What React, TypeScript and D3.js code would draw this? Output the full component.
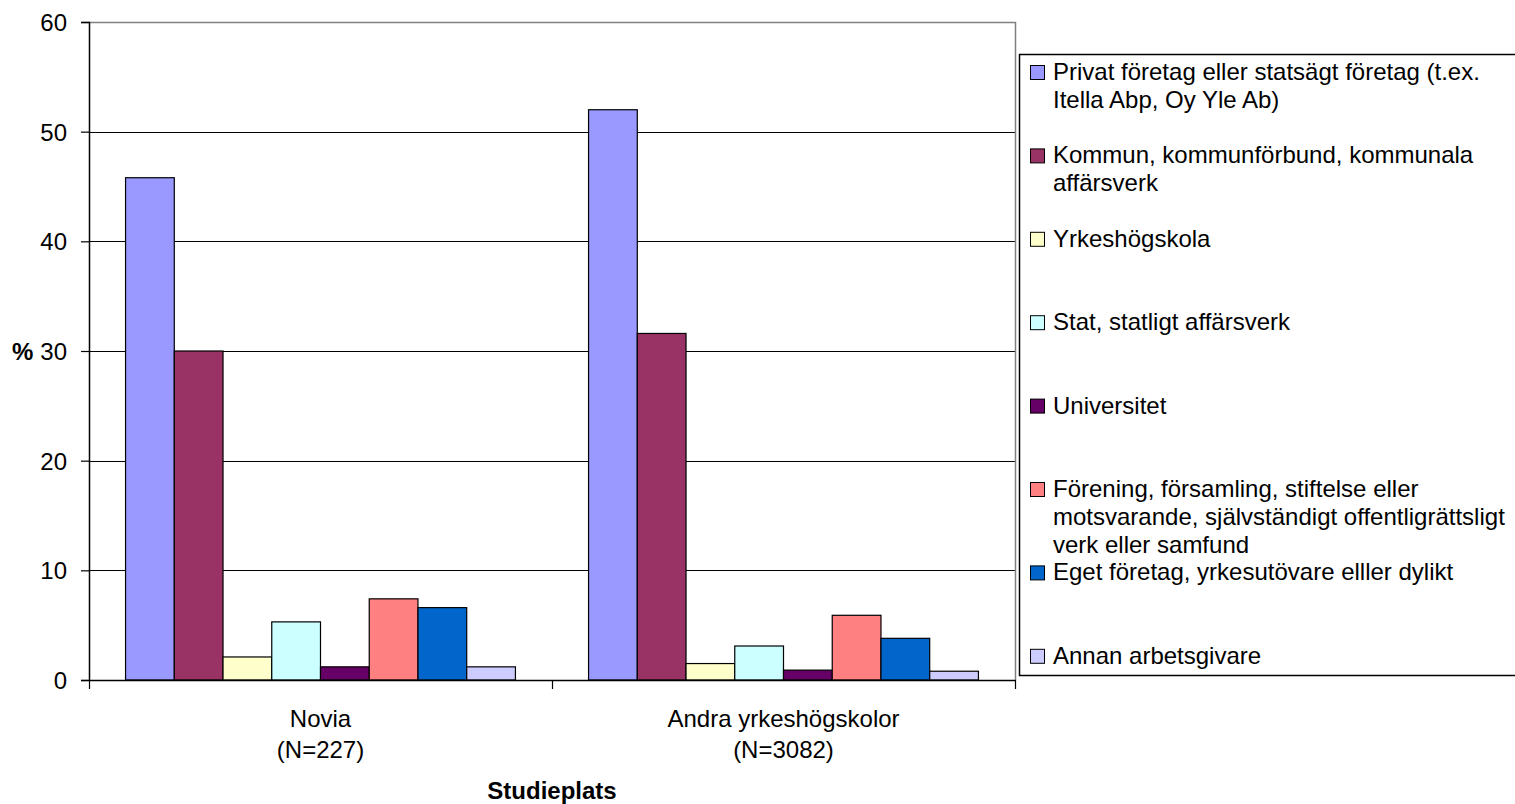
import React, { useEffect, useRef } from "react";
import * as d3 from "d3";

// categories on the x axis (two label lines each)
const categories = ["Novia", "Andra yrkeshögskolor"];
const categorySub = ["(N=227)", "(N=3082)"];

// series (legend order), each with one value per category
const seriesNames = [
  ["Privat företag eller statsägt företag (t.ex.", "Itella Abp, Oy Yle Ab)"],
  ["Kommun, kommunförbund, kommunala", "affärsverk"],
  ["Yrkeshögskola"],
  ["Stat, statligt affärsverk"],
  ["Universitet"],
  ["Förening, församling, stiftelse eller", "motsvarande, självständigt offentligrättsligt", "verk eller samfund"],
  ["Eget företag, yrkesutövare elller dylikt"],
  ["Annan arbetsgivare"],
];
const seriesColors = ["#9999FF", "#993366", "#FFFFCC", "#CCFFFF", "#660066", "#FF8080", "#0066CC", "#CCCCFF"];

const noviaValues = [45.8, 30.0, 2.1, 5.3, 1.2, 7.4, 6.6, 1.2];
const andraValues = [52.0, 31.6, 1.5, 3.1, 0.9, 5.9, 3.8, 0.8];

const yTicks = [0, 10, 20, 30, 40, 50, 60];

const App = () => {
  const ref = useRef<SVGSVGElement | null>(null);

  useEffect(() => {
    const svg = d3.select(ref.current);
    svg.selectAll("*").remove();

    const font = "'Liberation Sans', Arial, sans-serif";
    const left = 89, right = 1015, top = 22, bottom = 680;

    const y = d3.scaleLinear().domain([0, 60]).range([bottom, top]);
    const x0 = d3.scaleBand<string>().domain(categories).range([left, right]).padding(0);
    const x1 = d3
      .scaleBand<number>()
      .domain(d3.range(seriesNames.length))
      .range([0, x0.bandwidth()])
      .paddingInner(0)
      .paddingOuter(0.75);

    svg.append("rect").attr("width", 1515).attr("height", 804).attr("fill", "#fff");

    // gridlines
    svg
      .append("g")
      .selectAll("line")
      .data(yTicks.filter((t) => t > 0 && t < 60))
      .enter()
      .append("line")
      .attr("x1", left)
      .attr("x2", right)
      .attr("y1", (d) => Math.round(y(d)) + 0.5)
      .attr("y2", (d) => Math.round(y(d)) + 0.5)
      .attr("stroke", "#000")
      .attr("stroke-width", 1.2);

    // plot area border (top & right), gray
    svg
      .append("path")
      .attr("d", `M${left},${top + 0.5}H${right + 0.5}V${bottom}`)
      .attr("fill", "none")
      .attr("stroke", "#808080")
      .attr("stroke-width", 1.5);

    // bars
    const data = [noviaValues, andraValues];
    data.forEach((vals, ci) => {
      svg
        .append("g")
        .attr("transform", `translate(${x0(categories[ci])},0)`)
        .selectAll("rect")
        .data(vals)
        .enter()
        .append("rect")
        .attr("x", (_d, i) => x1(i)!)
        .attr("y", (d) => y(d))
        .attr("width", x1.bandwidth())
        .attr("height", (d) => y(0) - y(d))
        .attr("fill", (_d, i) => seriesColors[i])
        .attr("stroke", "#000")
        .attr("stroke-width", 1.2);
    });

    // y axis
    const yAxis = svg
      .append("g")
      .attr("transform", `translate(${left},0)`)
      .call(d3.axisLeft(y).tickValues(yTicks).tickSize(8).tickPadding(14));
    yAxis.select(".domain").attr("stroke", "#000").attr("stroke-width", 1.5);
    yAxis.selectAll(".tick line").attr("stroke", "#000").attr("stroke-width", 1.2);
    yAxis
      .selectAll(".tick text")
      .attr("font-family", font)
      .attr("font-size", 24)
      .attr("fill", "#000")
      .attr("dy", "0.36em");

    svg
      .append("text")
      .attr("x", 12)
      .attr("y", y(30))
      .attr("dy", "0.36em")
      .attr("font-family", font)
      .attr("font-size", 24)
      .attr("font-weight", "bold")
      .text("%");

    // x axis
    const xAxis = svg
      .append("g")
      .attr("transform", `translate(0,${bottom})`)
      .call(
        d3
          .axisBottom(d3.scaleLinear().domain([0, 2]).range([left, right]))
          .tickValues([0, 1, 2])
          .tickSize(9)
          .tickSizeOuter(0)
          .tickFormat(() => "")
      );
    xAxis.select(".domain").attr("stroke", "#000").attr("stroke-width", 1.5);
    xAxis.selectAll(".tick line").attr("stroke", "#000").attr("stroke-width", 1.2);

    categories.forEach((c, i) => {
      const cx = x0(c)! + x0.bandwidth() / 2;
      svg
        .append("text")
        .attr("x", cx)
        .attr("y", 727)
        .attr("text-anchor", "middle")
        .attr("font-family", font)
        .attr("font-size", 24)
        .text(c);
      svg
        .append("text")
        .attr("x", cx)
        .attr("y", 758)
        .attr("text-anchor", "middle")
        .attr("font-family", font)
        .attr("font-size", 24)
        .text(categorySub[i]);
    });

    svg
      .append("text")
      .attr("x", (left + right) / 2)
      .attr("y", 799)
      .attr("text-anchor", "middle")
      .attr("font-family", font)
      .attr("font-size", 24)
      .attr("font-weight", "bold")
      .text("Studieplats");

    // legend
    const lg = svg.append("g");
    lg.append("rect")
      .attr("x", 1019.5)
      .attr("y", 54.5)
      .attr("width", 520)
      .attr("height", 621)
      .attr("fill", "#fff")
      .attr("stroke", "#000")
      .attr("stroke-width", 1.5);

    const step = 83.4;
    seriesNames.forEach((lines, i) => {
      const base = 80 + i * step;
      lg.append("rect")
        .attr("x", 1030.5)
        .attr("y", base - 14.5)
        .attr("width", 14)
        .attr("height", 14)
        .attr("fill", seriesColors[i])
        .attr("stroke", "#000")
        .attr("stroke-width", 1);
      lines.forEach((t, li) => {
        lg.append("text")
          .attr("x", 1053)
          .attr("y", base + li * 28)
          .attr("font-family", font)
          .attr("font-size", 24)
          .attr("fill", "#000")
          .text(t);
      });
    });
  }, []);

  return <svg ref={ref} width={1515} height={804} style={{ display: "block", position: "absolute", left: 0, top: 0 }} />;
};

export default App;
